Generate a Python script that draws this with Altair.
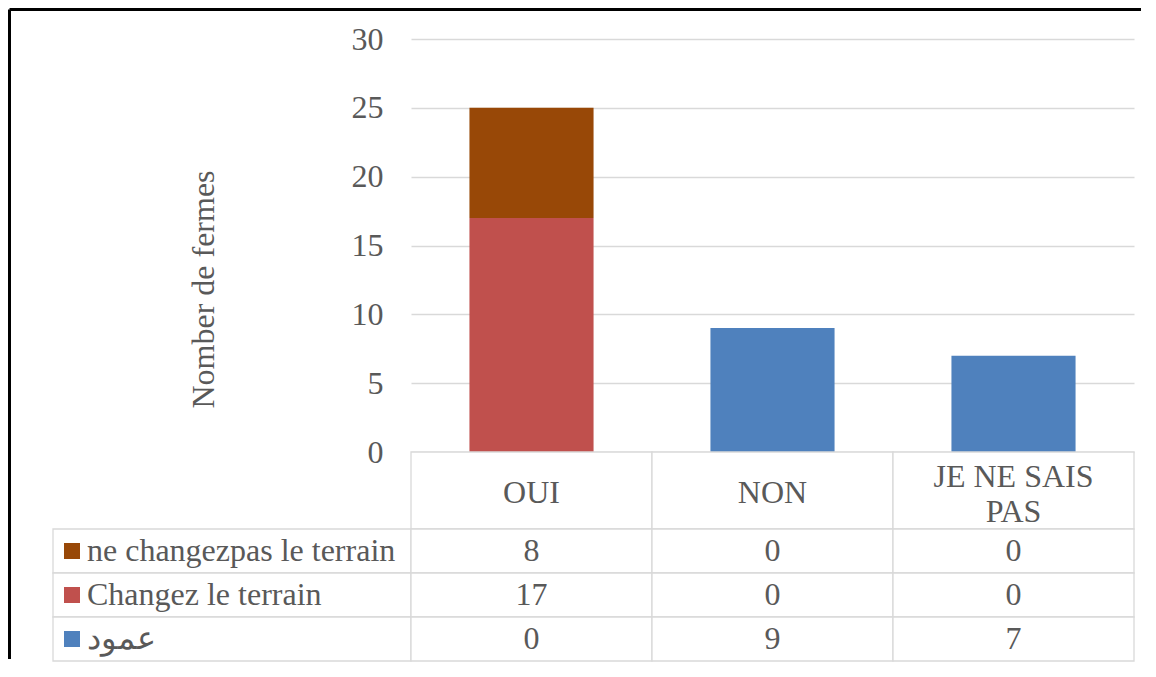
import altair as alt
import pandas as pd

categories = ["OUI", "NON", "JE NE SAIS PAS"]
header_labels = ["OUI", "NON", "JE NE SAIS\nPAS"]
series = ["ne changezpas le terrain", "Changez le terrain", "عمود"]
colors = ["#984807", "#C0504D", "#4F81BD"]
values_ne = [8, 0, 0]
values_ch = [17, 0, 0]
values_am = [0, 9, 7]
y_ticks = [0, 5, 10, 15, 20, 25, 30]

FONT = "Liberation Serif"
TXT = "#595959"
LINE = "#d9d9d9"
FS = 32
LW = 1.3
PLOT_W, PLOT_H = 723, 413
LEG_W = 358
HEAD_H = 77
ROWS_H = 132

rows = []
for i, (s, vals) in enumerate(zip(series, [values_ne, values_ch, values_am])):
    for c, v in zip(categories, vals):
        rows.append({"series": s, "category": c, "value": v, "order": 2 - i})
df = pd.DataFrame(rows)

color_scale = alt.Scale(domain=series, range=colors)
band0 = alt.Scale(paddingInner=0, paddingOuter=0)
x_enc = alt.X("category:N", sort=categories, scale=band0, axis=None)
y_rows = alt.Y("series:N", sort=series, scale=band0, axis=None)

# --- bar chart
bars = alt.Chart(df).mark_bar(width=alt.RelativeBandSize(band=0.515)).encode(
    x=x_enc,
    y=alt.Y(
        "value:Q",
        stack="zero",
        scale=alt.Scale(domain=[0, 30], nice=False),
        axis=alt.Axis(
            values=y_ticks,
            title="Nomber de fermes",
            titleFont=FONT,
            titleFontSize=FS,
            titleFontWeight="normal",
            titleColor=TXT,
            titleX=-198,
            titleY=250,
            titleAngle=-90,
            titleBaseline="alphabetic",
            titleAlign="center",
            labelFont=FONT,
            labelFontSize=FS,
            labelColor=TXT,
            labelPadding=28,
            ticks=False,
            tickSize=0,
            domain=False,
            grid=True,
            gridColor=LINE,
            gridWidth=LW,
        ),
    ),
    color=alt.Color("series:N", scale=color_scale, legend=None),
    order=alt.Order("order:Q"),
).properties(width=PLOT_W, height=PLOT_H)

# --- spacer carrying the chart-area frame (top and left edges)
one = pd.DataFrame({"k": [0]})
frame_top = alt.Chart(one).mark_rule(color="black", strokeWidth=3).encode(
    x=alt.value(-43.5), x2=alt.value(1088), y=alt.value(-29.5)
)
frame_left = alt.Chart(one).mark_rule(color="black", strokeWidth=3).encode(
    x=alt.value(-43.5), y=alt.value(-29.5), y2=alt.value(620)
)
spacer_a = alt.layer(frame_top, frame_left).properties(width=LEG_W, height=PLOT_H)

spacer_c = alt.Chart(one).mark_text(text="").encode(x=alt.value(0)).properties(
    width=LEG_W, height=HEAD_H
)

# --- header row
hdf = pd.DataFrame({"category": categories, "label": header_labels, "row": ["h"] * 3})
hdf_single = hdf[~hdf["label"].str.contains("\n")]
hdf_multi = hdf[hdf["label"].str.contains("\n")]
hy = alt.Y("row:N", scale=band0, axis=None)
header_cells = alt.Chart(hdf).mark_rect(fill="white", stroke=LINE, strokeWidth=LW).encode(
    x=x_enc, y=hy
)
header_text1 = alt.Chart(hdf_single).mark_text(
    font=FONT, fontSize=FS, color=TXT, dy=2
).encode(x=x_enc, y=hy, text="label:N")
header_text2 = alt.Chart(hdf_multi).mark_text(
    font=FONT, fontSize=FS, color=TXT, lineBreak="\n", lineHeight=35, dy=-14
).encode(x=x_enc, y=hy, text="label:N")
header = alt.layer(header_cells, header_text1, header_text2).properties(
    width=PLOT_W, height=HEAD_H
)

# --- legend column of the data table
ldf = pd.DataFrame({"series": series, "col": ["l"] * 3})
lx = alt.X("col:N", scale=band0, axis=None)
legend_cells = alt.Chart(ldf).mark_rect(fill="white", stroke=LINE, strokeWidth=LW).encode(
    x=lx, y=y_rows
)
swatch = alt.Chart(ldf).mark_square(size=256, opacity=1).encode(
    x=alt.value(19), y=y_rows, color=alt.Color("series:N", scale=color_scale, legend=None)
)
legend_text = alt.Chart(ldf).mark_text(
    align="left", font=FONT, fontSize=FS, color=TXT
).encode(x=alt.value(34), y=y_rows, text="series:N")
legend_col = alt.layer(legend_cells, swatch, legend_text).properties(
    width=LEG_W, height=ROWS_H
)

# --- value cells
cells = alt.Chart(df).mark_rect(fill="white", stroke=LINE, strokeWidth=LW).encode(
    x=x_enc, y=y_rows
)
cells_text = alt.Chart(df).mark_text(font=FONT, fontSize=FS, color=TXT).encode(
    x=x_enc, y=y_rows, text="value:Q"
)
cells_chart = alt.layer(cells, cells_text).properties(width=PLOT_W, height=ROWS_H)

chart = (
    alt.concat(
        spacer_a, bars, spacer_c, header, legend_col, cells_chart,
        columns=2, spacing=0, bounds="flush", align="each",
    )
    .configure_view(stroke=None)
    .properties(padding=0, background="white")
)

chart.save("out.html", embed_options={"renderer": "svg", "actions": False})
